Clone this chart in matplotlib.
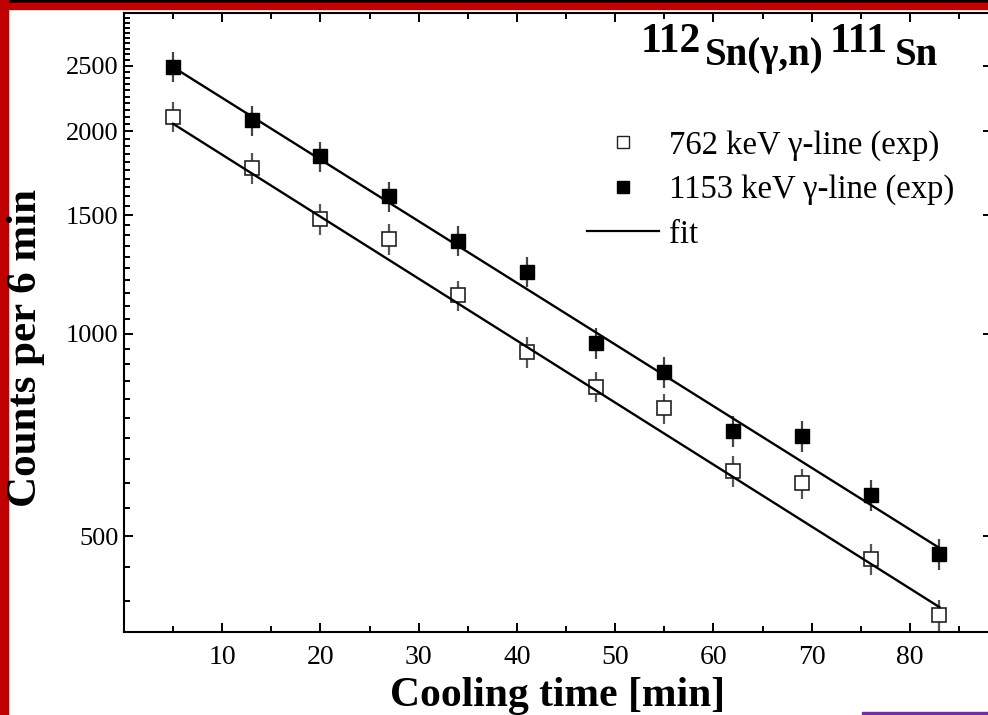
import matplotlib
matplotlib.use('Agg')
import matplotlib.pyplot as plt
from matplotlib.lines import Line2D
from matplotlib.patches import Rectangle
from matplotlib.ticker import FixedLocator, MultipleLocator, FixedFormatter, NullFormatter

plt.rcParams['font.family'] = ['Liberation Serif', 'DejaVu Serif']

# Cooling time [min]
time = [5, 13, 20, 27, 34, 41, 48, 55, 62, 69, 76, 83]
# 762 keV gamma-line counts (open squares)
counts_762 = [2100, 1763, 1480, 1381, 1140, 939, 833, 774, 625, 599, 462, 381]
err_762 = [109, 92, 77, 72, 59, 49, 43, 40, 33, 31, 24, 20]
# 1153 keV gamma-line counts (filled squares)
counts_1153 = [2495, 2075, 1835, 1600, 1375, 1235, 968, 877, 716, 704, 575, 470]
err_1153 = [130, 108, 95, 83, 72, 64, 50, 46, 37, 37, 30, 25]
# exponential fit lines (straight on log axis), end points
fit_time = [5, 83]
fit_762 = [2051, 392]
fit_1153 = [2490, 480]

y_ticks = [500, 1000, 1500, 2000, 2500]
x_ticks = [10, 20, 30, 40, 50, 60, 70, 80]

W, H = 988, 715
fig = plt.figure(figsize=(W / 100, H / 100), dpi=100)
fig.patch.set_facecolor('white')

# screenshot frame
fig.patches.append(Rectangle((0, 1 - 3 / H), 1, 3 / H, transform=fig.transFigure, color='black', zorder=0))
fig.patches.append(Rectangle((0, 1 - 9 / H), 1, 6 / H, transform=fig.transFigure, color='#c00000', zorder=0))
fig.patches.append(Rectangle((0, 0), 8 / W, 1, transform=fig.transFigure, color='#c00000', zorder=0))
fig.patches.append(Rectangle((862 / W, 0), (W - 862) / W, 3 / H, transform=fig.transFigure, color='#7030a0', zorder=0))

ax = fig.add_axes([124 / W, (H - 632) / H, (991.5 - 124) / W, (632 - 12.7) / H])

ax.errorbar(time, counts_762, yerr=err_762, fmt='none', ecolor='#555555', elinewidth=1.6, capsize=0, zorder=2)
ax.errorbar(time, counts_1153, yerr=err_1153, fmt='none', ecolor='#444444', elinewidth=1.6, capsize=0, zorder=2)
ax.plot(time, counts_762, 's', ms=9.8, mfc='white', mec='#222222', mew=1.2, zorder=3)
ax.plot(time, counts_1153, 's', ms=9.8, mfc='black', mec='black', mew=1.0, zorder=3)
ax.plot(fit_time, fit_762, '-', color='black', lw=1.7, zorder=4)
ax.plot(fit_time, fit_1153, '-', color='black', lw=1.7, zorder=4)

ax.set_yscale('log')
ax.set_xlim(0, 88.3)
ax.set_ylim(360, 3000)

ax.yaxis.set_major_locator(FixedLocator(y_ticks))
ax.yaxis.set_major_formatter(FixedFormatter([str(v) for v in y_ticks]))
ax.yaxis.set_minor_locator(MultipleLocator(50))
ax.yaxis.set_minor_formatter(NullFormatter())
ax.xaxis.set_major_locator(FixedLocator(x_ticks))
ax.xaxis.set_minor_locator(MultipleLocator(5))

for s in ax.spines.values():
    s.set_linewidth(1.5)
ax.tick_params(which='both', direction='in', width=1.4, top=True, right=True)
ax.tick_params(which='major', length=6.5)
ax.tick_params(which='minor', length=4)
ax.tick_params(axis='y', which='minor', right=False)
ax.tick_params(axis='y', labelsize=19, pad=4)
ax.tick_params(axis='x', labelsize=20, pad=9)

fig.text(26 / W, 1 - 348 / H, 'Counts per 6 min', rotation=90, fontsize=31, fontweight='bold',
         ha='center', va='center')
fig.text(558 / W, 1 - 706 / H, 'Cooling time [min]', fontsize=30, fontweight='bold',
         ha='center', va='baseline')

# reaction label
fig.text(641 / W, 1 - 52 / H, '112', fontsize=30, fontweight='bold', ha='left', va='baseline')
fig.text(705 / W, 1 - 65 / H, 'Sn(γ,n)', fontsize=28, fontweight='bold', ha='left', va='baseline')
fig.text(830 / W, 1 - 52 / H, '111', fontsize=30, fontweight='bold', ha='left', va='baseline')
fig.text(895 / W, 1 - 65 / H, 'Sn', fontsize=28, fontweight='bold', ha='left', va='baseline')

handles = [
    Line2D([], [], ls='none', marker='s', ms=8.5, mfc='white', mec='#222222', mew=1.0),
    Line2D([], [], ls='none', marker='s', ms=8.5, mfc='black', mec='black'),
    Line2D([], [], ls='-', color='black', lw=1.6),
]
labels = ['762 keV γ-line (exp)', '1153 keV γ-line (exp)', 'fit']
fig.legend(handles, labels, loc='upper left', bbox_to_anchor=(587 / W, 1 - 130 / H),
           frameon=False, fontsize=23.5, handlelength=2.2, handletextpad=0.3,
           labelspacing=0.42, borderpad=0, borderaxespad=0)

fig.savefig('out.png', dpi=100)
